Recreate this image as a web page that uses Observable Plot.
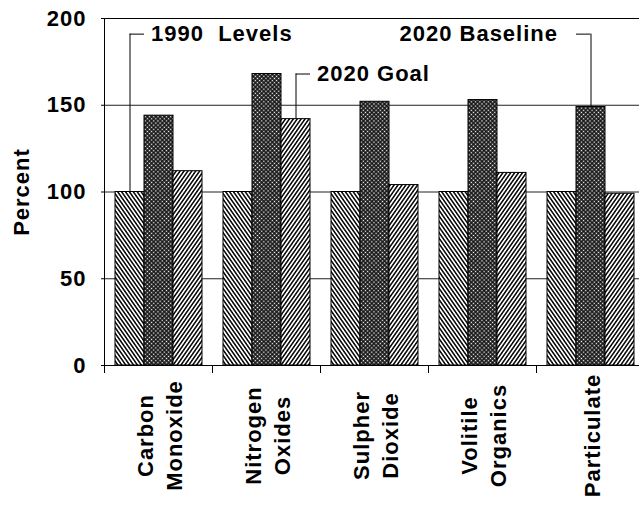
<!DOCTYPE html>
<html>
<head>
<meta charset="utf-8">
<script src="https://cdn.jsdelivr.net/npm/d3@7"></script>
<script src="https://cdn.jsdelivr.net/npm/@observablehq/plot@0.6"></script>
<style>
  html, body { margin: 0; padding: 0; background: #fff; overflow: hidden; }
  #chart svg text { letter-spacing: 1px; }
</style>
</head>
<body>
<div id="chart"></div>
<script>
// Emissions per pollutant, as a percent of 1990 levels
const categories = ["Carbon Monoxide", "Nitrogen Oxides", "Sulpher Dioxide", "Volitile Organics", "Particulate"];
const series = ["1990 Levels", "2020 Baseline", "2020 Goal"];
const levels1990 = [100, 100, 100, 100, 100];
const baseline2020 = [144, 168, 152, 153, 149];
const goal2020 = [112, 142, 104, 111, 99];
const yTicks = [0, 50, 100, 150, 200];
const gridValues = [50, 100, 150];

// Callouts naming each series, each pinned to one of its bars
const calloutSeries = ["1990 Levels", "2020 Goal", "2020 Baseline"];
const calloutCategory = ["Carbon Monoxide", "Nitrogen Oxides", "Particulate"];
const calloutLabels = ["1990  Levels", "2020 Goal", "2020 Baseline"];
const calloutHeight = [191, 168, 191];
const calloutSide = ["right", "right", "left"];

const valuesBySeries = {"1990 Levels": levels1990, "2020 Baseline": baseline2020, "2020 Goal": goal2020};
const rows = series.flatMap(s => categories.map((c, i) => ({category: c, series: s, value: valuesBySeries[s][i]})));
const callouts = calloutSeries.map((s, i) => ({
  category: calloutCategory[i],
  series: s,
  label: calloutLabels[i],
  at: calloutHeight[i],
  side: calloutSide[i],
  value: valuesBySeries[s][categories.indexOf(calloutCategory[i])]
}));
const rightCallouts = callouts.filter(d => d.side === "right");
const leftCallouts = callouts.filter(d => d.side === "left");

// Layout
const width = 645, height = 508;
const marginLeft = 103, marginRight = 0, marginTop = 18, marginBottom = 143;
const groupPadding = 0.35;
const facetStep = (width - marginLeft - marginRight) / categories.length;
const barWidth = facetStep / (series.length + 2 * groupPadding);
const plotHeight = height - marginTop - marginBottom;
const font = "'Liberation Sans', Arial, Helvetica, sans-serif";
const textStyle = {fontSize: 22, fontWeight: "bold", fill: "#000"};

const chart = Plot.plot({
  width, height, marginLeft, marginRight, marginTop, marginBottom,
  style: {fontFamily: font, fontSize: "22px", fontWeight: "bold", color: "#000", background: "#fff", maxWidth: "none"},
  fx: {domain: categories, padding: 0, axis: null},
  x: {domain: series, paddingInner: 0, paddingOuter: groupPadding, axis: null},
  y: {domain: [0, 200], ticks: yTicks, tickSize: 3, tickPadding: 15, label: null},
  color: {domain: series, range: ["url(#hatch-down)", "url(#checker)", "url(#hatch-up)"]},
  marks: [
    Plot.ruleY(gridValues, {stroke: "#222", strokeWidth: 1}),
    Plot.barY(rows, {fx: "category", x: "series", y: "value", fill: "series", stroke: "#000", strokeWidth: 1}),
    // callout leaders: up from the bar, then a short stub toward the label
    Plot.ruleX(callouts, {fx: "category", x: "series", y1: "value", y2: "at", stroke: "#000", strokeWidth: 1}),
    Plot.tickY(rightCallouts, {fx: "category", x: "series", y: "at", insetLeft: barWidth / 2, stroke: "#000", strokeWidth: 1}),
    Plot.tickY(leftCallouts, {fx: "category", x: "series", y: "at", insetRight: barWidth / 2, stroke: "#000", strokeWidth: 1}),
    Plot.text(rightCallouts, {fx: "category", x: "series", y: "at", text: "label", textAnchor: "start", lineAnchor: "middle", dx: 21, ...textStyle}),
    Plot.text(leftCallouts, {fx: "category", x: "series", y: "at", text: "label", textAnchor: "end", lineAnchor: "middle", dx: -33, ...textStyle}),
    // outer frame and the short separators under each pollutant group
    Plot.frame({facet: "super", stroke: "#000"}),
    Plot.frame({anchor: "left", insetTop: plotHeight, insetBottom: -7, stroke: "#000"}),
    // pollutant names, rotated, below the axis
    Plot.text(categories, {
      fx: d => d, text: d => d.replace(" ", "\n"),
      frameAnchor: "bottom", rotate: -90, textAnchor: "middle", lineAnchor: "middle",
      lineHeight: 1.3, dy: 70, ...textStyle
    }),
    Plot.text(["Percent"], {facet: "super", frameAnchor: "left", textAnchor: "middle", rotate: -90, dx: -83, ...textStyle})
  ]
});

// Fill patterns for the three series
const svg = d3.select(chart.tagName.toLowerCase() === "svg" ? chart : chart.querySelector("svg"));
const defs = svg.insert("defs", ":first-child");
function hatch(id, angle) {
  const p = defs.append("pattern")
    .attr("id", id).attr("patternUnits", "userSpaceOnUse")
    .attr("width", 3.2).attr("height", 8)
    .attr("patternTransform", `rotate(${angle})`);
  p.append("rect").attr("width", 3.2).attr("height", 8).attr("fill", "#fff");
  p.append("line").attr("x1", 1.6).attr("x2", 1.6).attr("y1", -1).attr("y2", 9)
    .attr("stroke", "#000").attr("stroke-width", 1.5);
}
hatch("hatch-down", -35);
hatch("hatch-up", 35);
const checker = defs.append("pattern")
  .attr("id", "checker").attr("patternUnits", "userSpaceOnUse")
  .attr("width", 3).attr("height", 3).attr("patternTransform", "rotate(45)");
checker.append("rect").attr("width", 3).attr("height", 3).attr("fill", "#111");
checker.append("rect").attr("x", 0.8).attr("y", 0.8).attr("width", 1.4).attr("height", 1.4).attr("fill", "#fff");

document.getElementById("chart").append(chart);
</script>
</body>
</html>
